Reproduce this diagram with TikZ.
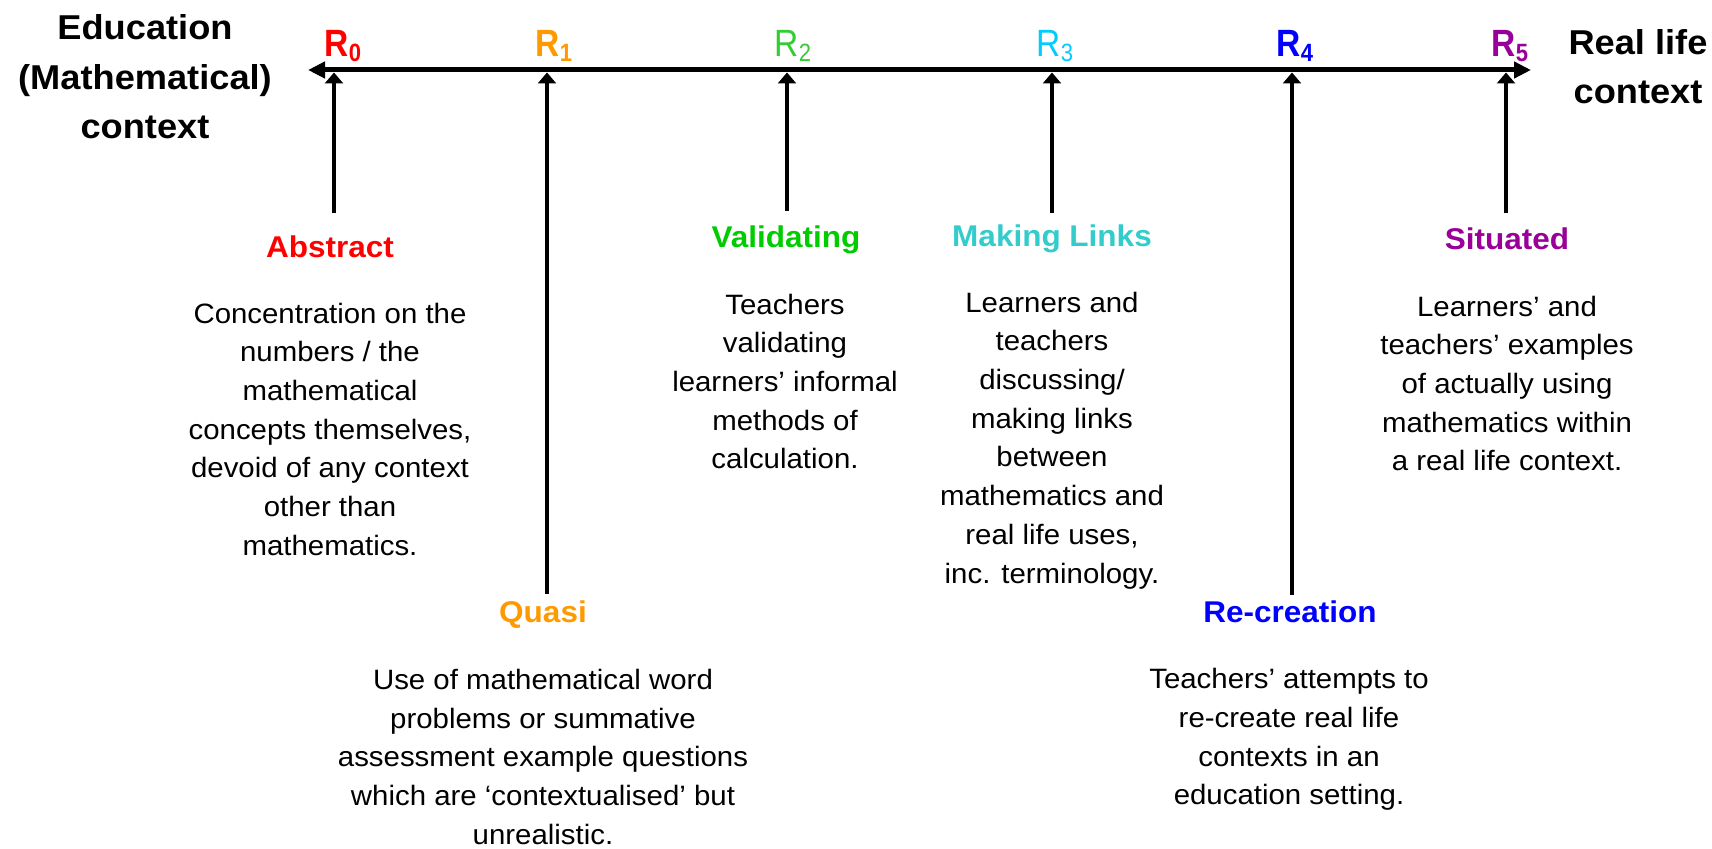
\documentclass[tikz,border=0pt]{standalone}
\usepackage{fontspec}
\setmainfont{Liberation Sans}[FakeStretch=1.05]
\usetikzlibrary{arrows.meta}
\definecolor{abstractred}{HTML}{FF0000}
\definecolor{quasiorange}{HTML}{FF9900}
\definecolor{rtwogreen}{HTML}{33CC33}
\definecolor{validgreen}{HTML}{00CC00}
\definecolor{rthreecyan}{HTML}{00CCFF}
\definecolor{linksteal}{HTML}{33CCCC}
\definecolor{recreateblue}{HTML}{0000FF}
\definecolor{situatedpurple}{HTML}{990099}
\newcommand{\rlevel}[1]{\scalebox{0.84}[1]{R\raisebox{-5pt}{\fontsize{25}{25}\selectfont #1}}}

\begin{document}
\begin{tikzpicture}[x=1pt, y=-1pt,
  body/.style={font=\fontsize{28}{38.7}\selectfont, align=center, inner sep=0pt, anchor=north},
  heading/.style={font=\bfseries\fontsize{30}{36}\selectfont, inner sep=0pt, anchor=base},
  endlabel/.style={font=\bfseries\fontsize{34.5}{49.3}\selectfont, align=center, inner sep=0pt, anchor=north},
  rmark/.style={font=\bfseries\fontsize{38}{38}\selectfont, inner sep=0pt, anchor=base},
  rthin/.style={rmark, font=\mdseries\fontsize{38}{38}\selectfont},
  axis/.style={line width=5pt, {Triangle[length=17pt,width=16pt]}-{Triangle[length=17pt,width=16pt]}},
  pointer/.style={line width=3.5pt, -{Triangle[length=11pt,width=18pt]}}]

\path[use as bounding box] (0,0) rectangle (1712,848);

% Axis ends
\node[endlabel] (education) at (145, 14.8) {Education\\(Mathematical)\\context};
\node[endlabel] (reallife) at (1638, 29.3) {Real life\\context};

% Axis
\coordinate (axisleft) at (308, 70);
\coordinate (axisright) at (1531, 70);
\draw[axis] (axisleft) -- (axisright);

% Levels on the axis
\node[rmark, color=abstractred] (rzero) at (343, 57) {\rlevel{0}};
\node[rmark, color=quasiorange] (rone) at (554, 57) {\rlevel{1}};
\node[rthin, color=rtwogreen] (rtwo) at (793, 57) {\rlevel{2}};
\node[rthin, color=rthreecyan] (rthree) at (1055, 57) {\rlevel{3}};
\node[rmark, color=recreateblue] (rfour) at (1295, 57) {\rlevel{4}};
\node[rmark, color=situatedpurple] (rfive) at (1510, 57) {\rlevel{5}};

% Pointers up to the axis
\foreach \i/\x/\y in {0/334/213, 1/547/594, 2/787/211, 3/1052/213, 4/1292/595, 5/1506/213} {
  \coordinate (foot\i) at (\x, \y);
  \coordinate (tip\i) at (\x, 72.5);
  \draw[pointer] (foot\i) -- (tip\i);
}

% Abstract
\node[heading, color=abstractred] (abstract) at (330, 257) {Abstract};
\node[body] (abstracttext) at (330, 302.7) {Concentration on the\\numbers / the\\mathematical\\concepts themselves,\\devoid of any context\\other than\\mathematics.};

% Quasi
\node[heading, color=quasiorange] (quasi) at (543, 622.7) {Quasi};
\node[body] (quasitext) at (543, 669) {Use of mathematical word\\problems or summative\\assessment example questions\\which are ‘contextualised’ but\\unrealistic.};

% Validating
\node[heading, color=validgreen] (validating) at (786, 247.5) {Validating};
\node[body] (validatingtext) at (785, 293.6) {Teachers\\validating\\learners’ informal\\methods of\\calculation.};

% Making Links
\node[heading, color=linksteal] (links) at (1052, 246.7) {Making Links};
\node[body] (linkstext) at (1052, 291.7) {Learners and\\teachers\\discussing/\\making links\\between\\mathematics and\\real life uses,\\inc. terminology.};

% Re-creation
\node[heading, color=recreateblue] (recreation) at (1290, 622.7) {Re-creation};
\node[body] (recreationtext) at (1289, 668.3) {Teachers’ attempts to\\re-create real life\\contexts in an\\education setting.};

% Situated
\node[heading, color=situatedpurple] (situated) at (1507, 249.6) {Situated};
\node[body] (situatedtext) at (1507, 295.7) {Learners’ and\\teachers’ examples\\of actually using\\mathematics within\\a real life context.};

\end{tikzpicture}
\end{document}
